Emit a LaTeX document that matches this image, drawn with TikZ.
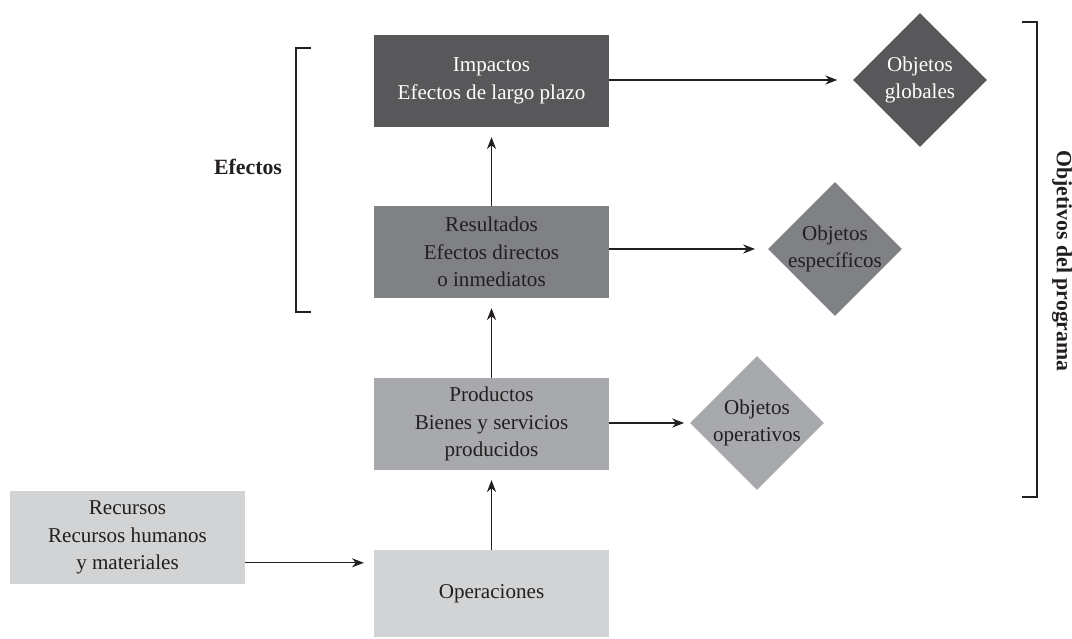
\documentclass[tikz,border=0pt]{standalone}
\usepackage{fontspec}
\setmainfont{Liberation Serif}
\usetikzlibrary{positioning,arrows.meta,shapes.geometric}
\definecolor{darkcol}{HTML}{58585A}
\definecolor{midcol}{HTML}{808184}
\definecolor{lightcol}{HTML}{A7A9AC}
\definecolor{palecol}{HTML}{D1D3D4}
\definecolor{inkcol}{HTML}{231F20}
\begin{document}
\begin{tikzpicture}[x=0.025cm,y=-0.025cm,
    every node/.style={font=\fontsize{15}{19.5}\selectfont, text=inkcol},
    stage/.style={rectangle, align=center, minimum width=5.875cm, minimum height=2.3cm, inner sep=0pt},
    goal/.style={diamond, minimum width=3.35cm, minimum height=3.35cm, inner sep=0pt},
    flow/.style={-{Stealth[length=8.5pt,width=6.5pt]}, line width=0.8pt, draw=inkcol},
    brace/.style={line width=0.8pt, draw=inkcol}]
  \useasboundingbox (0,0) rectangle (1072,638);
  % stages of the chain
  \node[stage, fill=darkcol, text=white] (impactos) at (491.5,81) {Impactos\\Efectos de largo plazo};
  \node[stage, fill=midcol] (resultados) at (491.5,252) {Resultados\\Efectos directos\\o inmediatos};
  \node[stage, fill=lightcol] (productos) at (491.5,424) {Productos\\Bienes y servicios\\producidos};
  \node[stage, fill=palecol, minimum height=2.175cm] (operaciones) at (491.5,593.5) {Operaciones};
  \node[stage, fill=palecol] (recursos) at (127.5,537.5) {Recursos\\Recursos humanos\\y materiales};
  % objectives
  \node[goal, fill=darkcol, label={[align=center, text=white]center:Objetos\\globales}] (globales) at (920,80) {};
  \node[goal, fill=midcol, label={[align=center]center:Objetos\\específicos}] (especificos) at (835,249) {};
  \node[goal, fill=lightcol, label={[align=center]center:Objetos\\operativos}] (operativos) at (757,423) {};
  % arrows
  \draw[flow, shorten >=7pt] (operaciones) -- (productos);
  \draw[flow, shorten >=7pt] (productos) -- (resultados);
  \draw[flow, shorten >=7pt] (resultados) -- (impactos);
  \draw[flow, shorten >=11pt] (impactos.east |- globales) -- (globales);
  \draw[flow, shorten >=9pt] (resultados.east |- especificos) -- (especificos);
  \draw[flow, shorten >=4pt] (productos.east |- operativos) -- (operativos);
  \draw[flow, shorten >=7pt] ([yshift=-18pt]recursos.east) -- ([yshift=-18pt]recursos.east -| operaciones.west);
  % brackets
  \draw[brace] (311,48) -- (296,48) -- (296,312) -- (311,312);
  \node[font=\fontsize{15.5}{17}\selectfont\bfseries] (efectos) at (248,167) {Efectos};
  \draw[brace] (1022,22) -- (1037,22) -- (1037,497) -- (1022,497);
  \node[font=\fontsize{15.5}{17}\selectfont\bfseries, rotate=-90] (objetivos) at (1062,261) {Objetivos del programa};
\end{tikzpicture}
\end{document}
